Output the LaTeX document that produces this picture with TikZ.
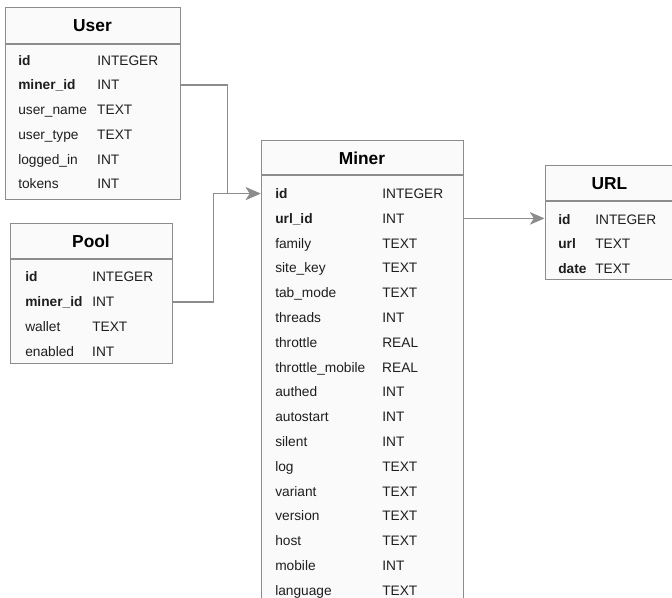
\documentclass[tikz,border=0pt]{standalone}
\usepackage{fontspec}
\setmainfont{Liberation Sans}
\usetikzlibrary{positioning, arrows.meta}
\definecolor{boxline}{HTML}{8C8C8C}
\definecolor{boxfill}{HTML}{FAFAFA}
\definecolor{fieldtext}{HTML}{1E1E1E}
\newcommand{\fld}[2]{\makebox[#1][l]{#2}}

\begin{document}
\begin{tikzpicture}[x=0.75pt, y=-0.75pt,
  tabhead/.style={draw=boxline, fill=boxfill, line width=0.75pt, inner sep=0pt, font=\fontsize{13pt}{15pt}\selectfont\bfseries},
  tabbody/.style={draw=boxline, fill=boxfill, line width=0.75pt, inner sep=0pt},
  row/.style={anchor=west, inner sep=0pt, text height=7.4pt, text depth=0pt, text=fieldtext, font=\fontsize{10.3pt}{12pt}\selectfont},
  link/.style={draw=boxline, line width=0.9pt, -{Stealth[length=11pt, width=9.5pt, inset=3pt]}}
]
\useasboundingbox (0,0) rectangle (672,598);
\clip (0,0) rectangle (672,598);

% User table
\node (user) [tabhead, minimum width=131.25pt, minimum height=27pt] at (92.5,26) {User};
\node (userbody) [tabbody, minimum width=131.25pt, minimum height=116.25pt, below=0pt of user] {};
\node (u1) [row] at (18,60.3) {\fld{59.25pt}{\textbf{id}}INTEGER};
\node (u2) [row] at (18,85) {\fld{59.25pt}{\textbf{miner\_id}}INT};
\node (u3) [row] at (18,109.7) {\fld{59.25pt}{user\_name}TEXT};
\node (u4) [row] at (18,134.4) {\fld{59.25pt}{user\_type}TEXT};
\node (u5) [row] at (18,159.1) {\fld{59.25pt}{logged\_in}INT};
\node (u6) [row] at (18,183.8) {\fld{59.25pt}{tokens}INT};

% Pool table
\node (pool) [tabhead, minimum width=121.5pt, minimum height=26.25pt] at (91,241.5) {Pool};
\node (poolbody) [tabbody, minimum width=121.5pt, minimum height=78pt, below=0pt of pool] {};
\node (p1) [row] at (25,277) {\fld{50.25pt}{\textbf{id}}INTEGER};
\node (p2) [row] at (25,302) {\fld{50.25pt}{\textbf{miner\_id}}INT};
\node (p3) [row] at (25,326.5) {\fld{50.25pt}{wallet}TEXT};
\node (p4) [row] at (25,352) {\fld{50.25pt}{enabled}INT};

% Miner table
\node (miner) [tabhead, minimum width=151.5pt, minimum height=25.5pt] at (362,158) {Miner};
\node (minerbody) [tabbody, minimum width=151.5pt, minimum height=326.25pt, below=0pt of miner] {};
\node (m1) [row] at (275,193.6) {\fld{80.25pt}{\textbf{id}}INTEGER};
\node (m2) [row] at (275,218.4) {\fld{80.25pt}{\textbf{url\_id}}INT};
\node (m3) [row] at (275,243.2) {\fld{80.25pt}{family}TEXT};
\node (m4) [row] at (275,268) {\fld{80.25pt}{site\_key}TEXT};
\node (m5) [row] at (275,292.8) {\fld{80.25pt}{tab\_mode}TEXT};
\node (m6) [row] at (275,317.6) {\fld{80.25pt}{threads}INT};
\node (m7) [row] at (275,342.4) {\fld{80.25pt}{throttle}REAL};
\node (m8) [row] at (275,367.2) {\fld{80.25pt}{throttle\_mobile}REAL};
\node (m9) [row] at (275,392) {\fld{80.25pt}{authed}INT};
\node (m10) [row] at (275,416.8) {\fld{80.25pt}{autostart}INT};
\node (m11) [row] at (275,441.6) {\fld{80.25pt}{silent}INT};
\node (m12) [row] at (275,466.4) {\fld{80.25pt}{log}TEXT};
\node (m13) [row] at (275,491.2) {\fld{80.25pt}{variant}TEXT};
\node (m14) [row] at (275,516) {\fld{80.25pt}{version}TEXT};
\node (m15) [row] at (275,540.8) {\fld{80.25pt}{host}TEXT};
\node (m16) [row] at (275,565.6) {\fld{80.25pt}{mobile}INT};
\node (m17) [row] at (275,590.4) {\fld{80.25pt}{language}TEXT};

% URL table
\node (url) [tabhead, minimum width=96.75pt, minimum height=26.25pt] at (609.5,183.5) {URL};
\node (urlbody) [tabbody, minimum width=96.75pt, minimum height=58.5pt, below=0pt of url] {};
\node (r1) [row] at (558,219.3) {\fld{27.75pt}{\textbf{id}}INTEGER};
\node (r2) [row] at (558,243.6) {\fld{27.75pt}{\textbf{url}}TEXT};
\node (r3) [row] at (558,268.6) {\fld{27.75pt}{\textbf{date}}TEXT};

\draw[link] (u2 -| userbody.east) -- ++(47,0) |- (m1 -| minerbody.west);
\draw[link] (p2 -| poolbody.east) -- ++(41,0) |- (m1 -| minerbody.west);
\draw[link] (m2 -| minerbody.east) -- (m2 -| urlbody.west);
\end{tikzpicture}
\end{document}
